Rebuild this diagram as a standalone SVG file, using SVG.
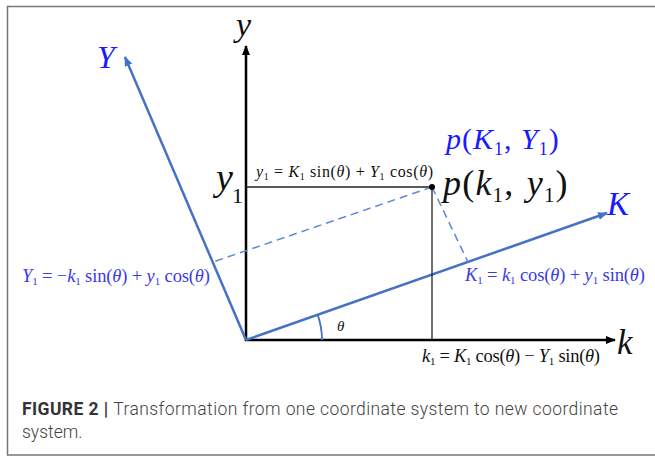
<svg xmlns="http://www.w3.org/2000/svg" width="655" height="457" viewBox="0 0 655 457">
<style>
text{font-family:"Liberation Serif","Times New Roman",serif}
.i{font-style:italic}
.s{font-style:normal}
.blk{fill:#111}
.blu{fill:#1a1aff}
.bf{fill:#3a3ae8}
.ax{stroke:#000;stroke-width:2.5;fill:none}
.bax{stroke:#4472c4;stroke-width:2.5;fill:none}
.thin{stroke:#222;stroke-width:1.3;fill:none}
.dash{stroke:#5b8ad6;stroke-width:1.5;stroke-dasharray:8 5;fill:none}
.cap{font-family:Roboto,"Liberation Sans",Arial,sans-serif;font-size:17.5px;fill:#444;font-weight:300}
.capb{font-weight:bold;fill:#333}
</style>
<defs>
<marker id="ak" markerWidth="10" markerHeight="8" refX="9" refY="4" orient="auto" markerUnits="userSpaceOnUse"><path d="M0,0 L10,4 L0,8 Z" fill="#000"/></marker>
<marker id="ab" markerWidth="10" markerHeight="8" refX="9" refY="4" orient="auto" markerUnits="userSpaceOnUse"><path d="M0,0 L10,4 L0,8 Z" fill="#4472c4"/></marker>
</defs>
<path d="M660 6.5 H7.5 V455 H660" fill="none" stroke="#777" stroke-width="1.5"/>
<g id="connectors">
<line class="ax" x1="246" y1="341" x2="246" y2="46" marker-end="url(#ak)"/>
<line class="ax" x1="245" y1="340" x2="615" y2="340" marker-end="url(#ak)"/>
<line class="bax" x1="246" y1="340" x2="607" y2="213" marker-end="url(#ab)"/>
<line class="bax" x1="246" y1="340" x2="125" y2="57" marker-end="url(#ab)"/>
<line class="thin" x1="246" y1="187" x2="432" y2="187"/>
<line class="thin" x1="432" y1="187" x2="432" y2="340"/>
<line class="dash" x1="432" y1="187" x2="213" y2="262"/>
<line class="dash" x1="432" y1="187" x2="468" y2="262"/>
<path d="M322 340 A76 76 0 0 0 317.7 314.9" stroke="#4472c4" stroke-width="1.8" fill="none"/>
</g>
<g id="point">
<circle cx="432" cy="187" r="3" fill="#000"/>
</g>
<g id="axis-labels">
<text x="236" y="36" class="i blk" font-size="34">y</text>
<text x="97" y="68" class="i blu" font-size="32">Y</text>
<text x="607" y="215" class="i blu" font-size="33">K</text>
<text x="617" y="354" class="i blk" font-size="35">k</text>
<text x="216" y="190" class="blk" font-size="38"><tspan class="i">y</tspan><tspan class="s" font-size="22" dy="13" dx="-1">1</tspan></text>
<text x="337" y="331" class="i blk" font-size="15">θ</text>
</g>
<g id="points-labels">
<text x="446" y="149" class="blu" font-size="30" letter-spacing="1"><tspan class="i">p</tspan>(<tspan class="i">K</tspan><tspan font-size="18" dy="6">1</tspan><tspan dy="-6">, </tspan><tspan class="i">Y</tspan><tspan font-size="18" dy="6">1</tspan><tspan dy="-6">)</tspan></text>
<text x="443" y="195" class="blk" font-size="36" letter-spacing="1.2"><tspan class="i">p</tspan>(<tspan class="i">k</tspan><tspan font-size="21" dy="7">1</tspan><tspan dy="-7">, </tspan><tspan class="i" dx="2">y</tspan><tspan font-size="21" dy="7">1</tspan><tspan dy="-7">)</tspan></text>
</g>
<g id="formulas">
<text x="256" y="177" class="blk" font-size="16" textLength="177" lengthAdjust="spacing"><tspan class="i">y</tspan><tspan font-size="10" dy="3">1</tspan><tspan dy="-3"> = </tspan><tspan class="i">K</tspan><tspan font-size="10" dy="3">1</tspan><tspan dy="-3"> sin(</tspan><tspan class="i">θ</tspan>) + <tspan class="i">Y</tspan><tspan font-size="10" dy="3">1</tspan><tspan dy="-3"> cos(</tspan><tspan class="i">θ</tspan>)</text>
<text x="22" y="282" class="bf" font-size="18.5" textLength="188" lengthAdjust="spacing"><tspan class="i">Y</tspan><tspan font-size="11" dy="3">1</tspan><tspan dy="-3"> = −</tspan><tspan class="i">k</tspan><tspan font-size="11" dy="3">1</tspan><tspan dy="-3"> sin(</tspan><tspan class="i">θ</tspan>) + <tspan class="i">y</tspan><tspan font-size="11" dy="3">1</tspan><tspan dy="-3"> cos(</tspan><tspan class="i">θ</tspan>)</text>
<text x="465" y="281" class="bf" font-size="18.5" textLength="180" lengthAdjust="spacing"><tspan class="i">K</tspan><tspan font-size="11" dy="3">1</tspan><tspan dy="-3"> = </tspan><tspan class="i">k</tspan><tspan font-size="11" dy="3">1</tspan><tspan dy="-3"> cos(</tspan><tspan class="i">θ</tspan>) + <tspan class="i">y</tspan><tspan font-size="11" dy="3">1</tspan><tspan dy="-3"> sin(</tspan><tspan class="i">θ</tspan>)</text>
<text x="422" y="362" class="blk" font-size="18.5" textLength="178" lengthAdjust="spacing"><tspan class="i">k</tspan><tspan font-size="11" dy="3">1</tspan><tspan dy="-3"> = </tspan><tspan class="i">K</tspan><tspan font-size="11" dy="3">1</tspan><tspan dy="-3"> cos(</tspan><tspan class="i">θ</tspan>) − <tspan class="i">Y</tspan><tspan font-size="11" dy="3">1</tspan><tspan dy="-3"> sin(</tspan><tspan class="i">θ</tspan>)</text>
</g>
<g id="caption">
<text x="22" y="415" class="cap" textLength="596" lengthAdjust="spacing"><tspan class="capb">FIGURE 2 | </tspan>Transformation from one coordinate system to new coordinate</text>
<text x="22" y="438" class="cap">system.</text>
</g>
</svg>
